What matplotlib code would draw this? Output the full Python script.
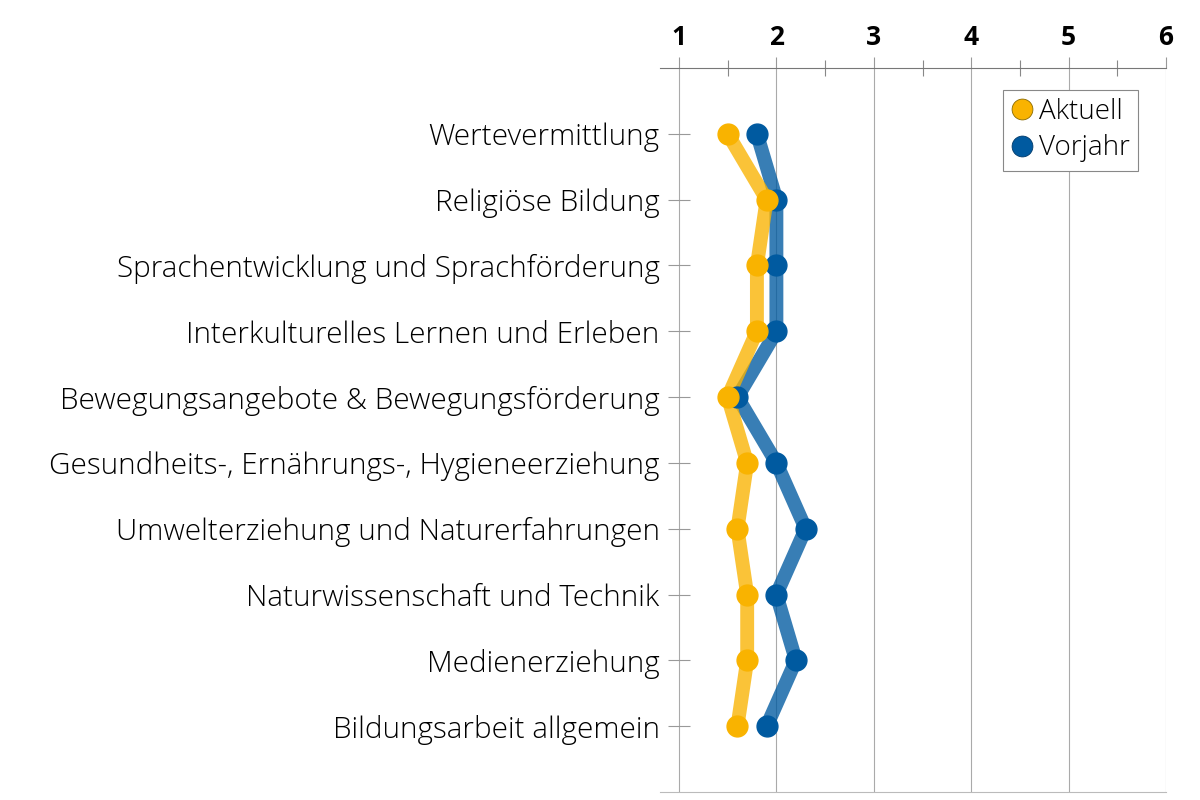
import matplotlib
matplotlib.use("Agg")
import matplotlib.pyplot as plt
from matplotlib.lines import Line2D

# categories, top to bottom
categories = [
    "Wertevermittlung",
    "Religiöse Bildung",
    "Sprachentwicklung und Sprachförderung",
    "Interkulturelles Lernen und Erleben",
    "Bewegungsangebote & Bewegungsförderung",
    "Gesundheits-, Ernährungs-, Hygieneerziehung",
    "Umwelterziehung und Naturerfahrungen",
    "Naturwissenschaft und Technik",
    "Medienerziehung",
    "Bildungsarbeit allgemein",
]
aktuell = [1.5, 1.9, 1.8, 1.8, 1.5, 1.7, 1.6, 1.7, 1.7, 1.6]
vorjahr = [1.8, 2.0, 2.0, 2.0, 1.6, 2.0, 2.3, 2.0, 2.2, 1.9]
x_ticks = [1, 2, 3, 4, 5, 6]

yellow = "#F9B300"
blue = "#005AA0"
fams = ["Open Sans", "DejaVu Sans"]

fig = plt.figure(figsize=(12, 8), dpi=100)
ax = fig.add_axes([0.55, 0.01, 0.4217, 0.905])

pos = list(range(1, len(categories) + 1))

ax.plot(vorjahr, pos, color=blue, alpha=0.78, lw=10, solid_joinstyle="miter", zorder=2)
ax.plot(aktuell, pos, color=yellow, alpha=0.78, lw=10, solid_joinstyle="miter", zorder=3)
ax.plot(vorjahr, pos, "o", color=blue, ms=15, zorder=4)
ax.plot(aktuell, pos, "o", color=yellow, ms=15, zorder=5)

ax.set_xlim(0.805, 6)
ax.set_ylim(len(categories) + 1, 0)

# x axis on top
ax.xaxis.tick_top()
ax.set_xticks(x_ticks)
ax.set_xticks([1.5, 2.5, 3.5, 4.5, 5.5], minor=True)
ax.tick_params(axis="x", which="major", direction="out", length=8, width=0.8,
               color="#999999", pad=4, labelsize=19)
ax.tick_params(axis="x", which="minor", direction="inout", length=12, width=0.8,
               color="#888888")
ax.grid(axis="x", which="major", color="#aaaaaa", lw=0.8)

# y axis
ax.spines["left"].set_position(("data", 1))
ax.spines["left"].set_visible(False)
ax.tick_params(axis="y", direction="inout", length=16, width=0.8, color="#999999",
               pad=6)
ax.set_yticks(pos)
ax.set_yticklabels(categories)

for lab in ax.get_xticklabels():
    lab.set_fontweight("bold")
    lab.set_family(fams)
for lab in ax.get_yticklabels():
    lab.set_family(fams)
    lab.set_fontweight("light")
    lab.set_fontsize(21.3)

ax.spines["right"].set_visible(False)
ax.spines["top"].set_color("#777777")
ax.spines["top"].set_linewidth(0.8)
ax.spines["bottom"].set_color("#bbbbbb")
ax.spines["bottom"].set_linewidth(0.8)

handles = [
    Line2D([], [], marker="o", ls="", color=yellow, mec="#8a6a00", mew=0.6, ms=15),
    Line2D([], [], marker="o", ls="", color=blue, mec="#003a6a", mew=0.6, ms=15),
]
leg = ax.legend(handles, ["Aktuell", "Vorjahr"], loc="upper right",
                bbox_to_anchor=(0.945, 0.97), fancybox=False, framealpha=1,
                edgecolor="#888888", handlelength=0.8, handletextpad=0.2,
                borderpad=0.3, labelspacing=0.3, borderaxespad=0,
                prop=dict(family=fams, weight="light", size=20))
leg.get_frame().set_linewidth(0.8)

fig.savefig("out.png", dpi=100)
